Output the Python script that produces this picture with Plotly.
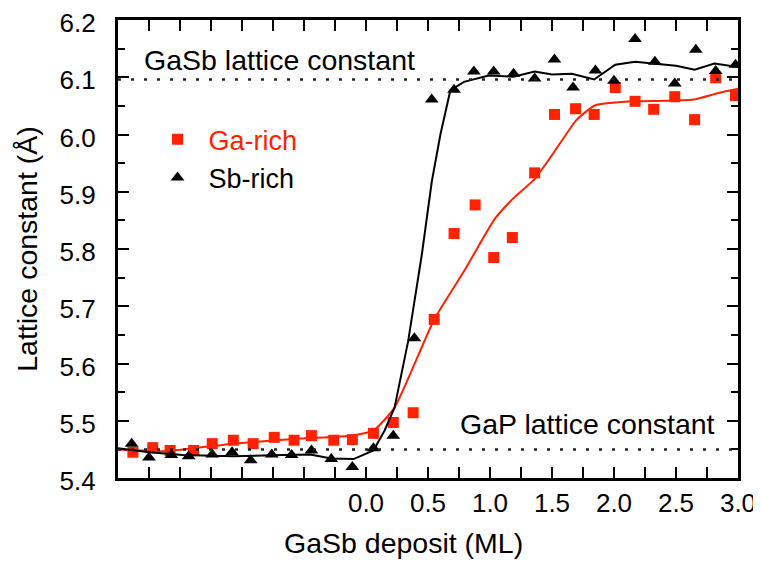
# ============================================================
# Lattice constant vs GaSb deposit (Ga-rich / Sb-rich)
# ============================================================

import plotly.graph_objects as go

# ============================================================
# Data
# ============================================================
ga_x = [-1.88, -1.72, -1.58, -1.39, -1.24, -1.07, -0.91, -0.74, -0.58, -0.44,
        -0.26, -0.11, 0.06, 0.22, 0.38, 0.55, 0.71, 0.88, 1.03, 1.18,
        1.36, 1.52, 1.69, 1.84, 2.01, 2.17, 2.32, 2.49, 2.65, 2.82, 2.98]
ga_y = [5.445, 5.453, 5.448, 5.448, 5.460, 5.466, 5.460, 5.471, 5.466, 5.474,
        5.466, 5.467, 5.478, 5.497, 5.514, 5.677, 5.827, 5.877, 5.785, 5.820,
        5.933, 6.035, 6.045, 6.035, 6.082, 6.058, 6.044, 6.066, 6.026, 6.099, 6.068]

sb_x = [-1.89, -1.75, -1.57, -1.43, -1.24, -1.08, -0.93, -0.76, -0.60, -0.44,
        -0.28, -0.11, 0.06, 0.22, 0.39, 0.53, 0.71, 0.87, 1.03, 1.19,
        1.36, 1.52, 1.67, 1.85, 2.00, 2.17, 2.33, 2.49, 2.66, 2.82, 2.98]
sb_y = [5.460, 5.436, 5.440, 5.438, 5.441, 5.445, 5.431, 5.441, 5.440, 5.448,
        5.433, 5.419, 5.452, 5.474, 5.644, 6.061, 6.078, 6.110, 6.110, 6.106,
        6.098, 6.131, 6.082, 6.112, 6.094, 6.167, 6.127, 6.089, 6.148, 6.111, 6.122]

# smoothed guide lines
ga_fit_x = [-2.0, -1.61, -1.07, -0.53, -0.12, 0.06, 0.23, 0.55, 0.79, 1.04,
            1.20, 1.36, 1.50, 1.70, 1.85, 2.15, 2.42, 2.64, 2.85, 3.0]
ga_fit_y = [5.450, 5.447, 5.460, 5.469, 5.474, 5.483, 5.523, 5.677, 5.761, 5.853,
            5.891, 5.922, 5.964, 6.026, 6.051, 6.058, 6.059, 6.061, 6.073, 6.080]

sb_fit_x = [-2.0, -1.75, -1.48, -1.07, -0.67, -0.45, -0.28, -0.10, 0.06, 0.15,
            0.23, 0.34, 0.45, 0.53, 0.60, 0.68, 0.79, 0.99, 1.19, 1.36,
            1.50, 1.66, 1.84, 2.01, 2.17, 2.33, 2.50, 2.65, 2.81, 3.0]
sb_fit_y = [5.452, 5.445, 5.440, 5.438, 5.440, 5.441, 5.434, 5.433, 5.448, 5.483,
            5.523, 5.639, 5.790, 5.917, 6.000, 6.077, 6.092, 6.103, 6.101, 6.110,
            6.105, 6.106, 6.096, 6.122, 6.127, 6.124, 6.120, 6.113, 6.124, 6.118]

GASB_CONST = 6.096
GAP_CONST = 5.450

X_RANGE = [-2.0, 3.0]
Y_RANGE = [5.4, 6.2]

# x ticks every 0.25 ML, labels only on the deposit side at 0.5 steps
x_label_vals = [0.0, 0.5, 1.0, 1.5, 2.0, 2.5, 3.0]
x_label_text = ["0.0", "0.5", "1.0", "1.5", "2.0", "2.5", "3.0"]

RED = "#ff2200"
FONT = "Liberation Sans, Arial, sans-serif"


def quarter_alias():
    # every tick is formatted with two decimals; keep only the labelled ones
    alias = {}
    for i in range(-8, 13):
        v = i * 0.25
        shown = "%.2f" % v
        txt = ""
        if v in x_label_vals:
            txt = x_label_text[x_label_vals.index(v)]
        alias[shown] = txt
        alias[shown.replace("-", "\u2212")] = txt
    return alias


# ============================================================
# Figure
# ============================================================
fig = go.Figure()

fig.add_trace(go.Scatter(x=ga_fit_x, y=ga_fit_y, mode="lines",
                         line=dict(color=RED, width=2, shape="spline", smoothing=0.5),
                         showlegend=False, hoverinfo="skip"))
# black guide drawn on the overlay axes (same ranges) that carry the tick marks
fig.add_trace(go.Scatter(x=sb_fit_x, y=sb_fit_y, mode="lines", xaxis="x2", yaxis="y2",
                         line=dict(color="black", width=2),
                         showlegend=False, hoverinfo="skip"))

fig.add_trace(go.Scatter(x=ga_x, y=ga_y, mode="markers", name="<span style='color:%s'>Ga-rich</span>" % RED,
                         marker=dict(symbol="square", size=11, color=RED)))
fig.add_trace(go.Scatter(x=sb_x, y=sb_y, mode="markers", name="Sb-rich",
                         marker=dict(symbol="triangle-up", size=12, color="black")))

# reference lattice constants
for yv in (GASB_CONST, GAP_CONST):
    fig.add_hline(y=yv, line=dict(color="#222222", width=2.5, dash="3px,10px"))

fig.add_annotation(text="GaSb lattice constant", xref="paper", yref="y",
                   x=0.039, y=6.13, xanchor="left", yanchor="middle",
                   showarrow=False, font=dict(size=28.5, color="black", family=FONT))
fig.add_annotation(text="GaP lattice constant", xref="paper", yref="y",
                   x=0.966, y=5.495, xanchor="right", yanchor="middle",
                   showarrow=False, font=dict(size=28.5, color="black", family=FONT))
# x title as annotation: it sits left of the plot centre in the reference
fig.add_annotation(text="GaSb deposit (ML)", xref="paper", yref="paper",
                   x=0.461, y=-0.141, xanchor="center", yanchor="middle",
                   showarrow=False, font=dict(size=28.5, color="black", family=FONT))

fig.update_xaxes(range=X_RANGE, tick0=0, dtick=0.25, tickformat=".2f",
                 labelalias=quarter_alias(),
                 ticks="inside", ticklen=11, tickwidth=2, tickcolor="#000000",
                 showline=True, linecolor="black", linewidth=2.5, mirror="allticks",
                 showgrid=False, zeroline=False, automargin=False, ticklabeloverflow="allow",
                 tickfont=dict(size=26, color="black", family=FONT))
fig.update_yaxes(range=Y_RANGE, tick0=5.4, dtick=0.1, tickformat=".1f",
                 ticks="inside", ticklen=11, tickwidth=2, tickcolor="#000000",
                 minor=dict(dtick=0.05, ticks="inside", ticklen=7, tickwidth=2, tickcolor="#000000"),
                 showline=True, linecolor="black", linewidth=2.5, mirror="allticks",
                 showgrid=False, zeroline=False, automargin=False, ticklabeloverflow="allow",
                 ticksuffix="\u00a0\u00a0", ticklabelshift=3,
                 tickfont=dict(size=26, color="black", family=FONT),
                 title=dict(text="Lattice constant (Å)", standoff=14,
                            font=dict(size=28.5, color="black", family=FONT)))

# page body has an 8px margin, so the figure is shifted left/up to compensate
fig.update_layout(
    width=753, height=556,
    margin=dict(l=110, r=23, t=9, b=86),
    plot_bgcolor="white", paper_bgcolor="white",
    xaxis2=dict(overlaying="x", anchor="y2", range=X_RANGE, tick0=0, dtick=0.25,
                ticks="inside", ticklen=11, tickwidth=2, tickcolor="#000000",
                showticklabels=False, showline=True, linecolor="black", linewidth=2.5,
                mirror="allticks", showgrid=False, zeroline=False),
    yaxis2=dict(overlaying="y", anchor="x2", range=Y_RANGE, tick0=5.4, dtick=0.1,
                ticks="inside", ticklen=11, tickwidth=2, tickcolor="#000000",
                minor=dict(dtick=0.05, ticks="inside", ticklen=7, tickwidth=2, tickcolor="#000000"),
                showticklabels=False, showline=True, linecolor="black", linewidth=2.5,
                mirror="allticks", showgrid=False, zeroline=False),
    legend=dict(x=0.046, y=0.792, xanchor="left", yanchor="top",
                itemwidth=52, bgcolor="rgba(0,0,0,0)",
                font=dict(size=27, color="black", family=FONT)),
)

fig.write_html("out.html")
